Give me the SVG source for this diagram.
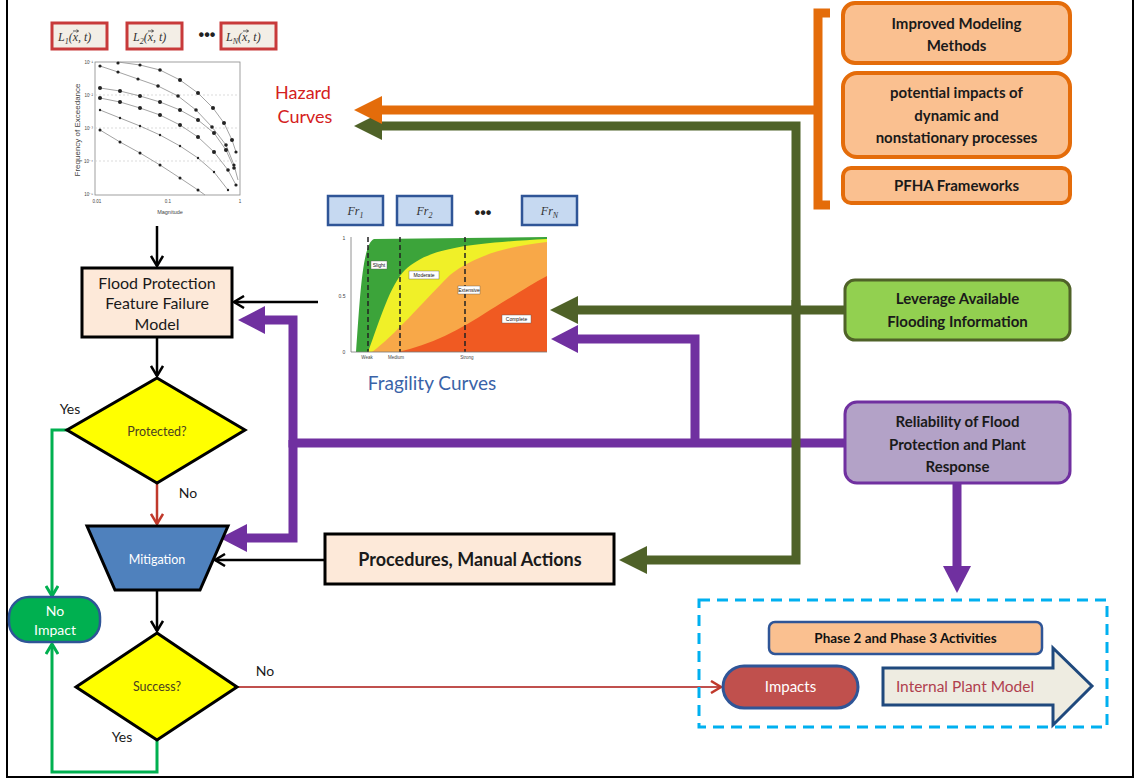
<svg xmlns="http://www.w3.org/2000/svg" width="1135" height="782" viewBox="0 0 1135 782">
<defs>
<style>
.t{font-family:Lato,"Liberation Sans",sans-serif;fill:#1a1a1a}
.b{font-weight:bold}
.m{text-anchor:middle}
.ser{font-family:"Liberation Serif","DejaVu Serif",serif;font-style:italic;fill:#333}
.thin{fill:none;stroke:#000;stroke-width:2.5}
.thick{fill:none;stroke-width:9;stroke-linejoin:miter}
.ob{fill:#fac090;stroke:#e46c0a;stroke-width:4}
.tiny{font-family:"Liberation Sans",sans-serif;fill:#444}
.vec{fill:none;stroke:#333;stroke-width:0.8}
</style>
<marker id="chevK" markerUnits="userSpaceOnUse" markerWidth="14" markerHeight="14" refX="11" refY="7" orient="auto"><path d="M1,1 L11,7 L1,13" fill="none" stroke="#000" stroke-width="2.5"/></marker>
<marker id="chevR" markerUnits="userSpaceOnUse" markerWidth="14" markerHeight="14" refX="11" refY="7" orient="auto"><path d="M1,1 L11,7 L1,13" fill="none" stroke="#c0392b" stroke-width="2.5"/></marker>
<marker id="chevG" markerUnits="userSpaceOnUse" markerWidth="14" markerHeight="14" refX="11" refY="7" orient="auto"><path d="M1,1 L11,7 L1,13" fill="none" stroke="#00b050" stroke-width="3"/></marker>
<marker id="hO" markerUnits="userSpaceOnUse" markerWidth="30" markerHeight="30" refX="0" refY="14" orient="auto"><path d="M0,0 L28,14 L0,28 Z" fill="#e46c0a"/></marker>
<marker id="hG" markerUnits="userSpaceOnUse" markerWidth="30" markerHeight="30" refX="0" refY="14" orient="auto"><path d="M0,0 L28,14 L0,28 Z" fill="#4f6228"/></marker>
<marker id="hP" markerUnits="userSpaceOnUse" markerWidth="30" markerHeight="30" refX="0" refY="14" orient="auto"><path d="M0,0 L27,14 L0,28 Z" fill="#7030a0"/></marker>
</defs>
<rect width="1135" height="782" fill="#fff"/>
<path d="M7,0 V777 H1133 V0" fill="none" stroke="#000" stroke-width="2"/>

<!-- connectors -->
<g id="connectors">
<path class="thick" stroke="#7030a0" d="M845,443 H293 V320 H265" marker-end="url(#hP)"/>
<path class="thick" stroke="#7030a0" d="M293,440 V538 H247" marker-end="url(#hP)"/>
<path class="thick" stroke="#7030a0" d="M695,443 V339 H578" marker-end="url(#hP)"/>
<path class="thick" stroke="#7030a0" d="M957,483 V566" marker-end="url(#hP)"/>
<path class="thick" stroke="#4f6228" d="M796,310 V126 H382" marker-end="url(#hG)"/>
<path class="thick" stroke="#4f6228" d="M796,300 V560 H647" marker-end="url(#hG)"/>
<path class="thick" stroke="#4f6228" d="M845,310 H578" marker-end="url(#hG)"/>
<path class="thick" stroke="#e46c0a" d="M830,13 H818 V205 H830"/>
<path class="thick" stroke="#e46c0a" d="M818,110 H382" marker-end="url(#hO)"/>
<path class="thin" d="M157,226 V266" marker-end="url(#chevK)"/>
<path class="thin" d="M318,302 H234" marker-end="url(#chevK)"/>
<path class="thin" d="M157,337 V376" marker-end="url(#chevK)"/>
<path class="thin" d="M157,590 V631" marker-end="url(#chevK)"/>
<path class="thin" d="M325,560 H215" marker-end="url(#chevK)"/>
<path d="M157,483 V524" fill="none" stroke="#c0392b" stroke-width="2.5" marker-end="url(#chevR)"/>
<path d="M237,687 H721" fill="none" stroke="#c0504d" stroke-width="2" marker-end="url(#chevR)"/>
<path d="M67,430 H52 V596" fill="none" stroke="#00b050" stroke-width="3" marker-end="url(#chevG)"/>
<path d="M157,740 V772 H52 V644" fill="none" stroke="#00b050" stroke-width="3" marker-end="url(#chevG)"/>
<text class="t" x="70" y="414" font-size="14" text-anchor="middle">Yes</text>
<text class="t" x="188" y="498" font-size="14" text-anchor="middle">No</text>
<text class="t" x="265" y="676" font-size="14" text-anchor="middle">No</text>
<text class="t" x="122" y="742" font-size="14" text-anchor="middle">Yes</text>
</g>

<!-- hazard curve boxes -->
<g id="hazard-inputs">
<rect x="52" y="23" width="55" height="26" fill="#f3eee6" stroke="#c83a3a" stroke-width="3"/>
<text class="ser" x="58" y="41" font-size="12">L<tspan font-size="8" dy="3">1</tspan><tspan dy="-3">(x, t)</tspan></text>
<path class="vec" d="M73,31 H78.5 M76.6,29.6 L78.5,31 L76.6,32.4"/>
<rect x="127" y="23" width="55" height="26" fill="#f3eee6" stroke="#c83a3a" stroke-width="3"/>
<text class="ser" x="133" y="41" font-size="12">L<tspan font-size="8" dy="3">2</tspan><tspan dy="-3">(x, t)</tspan></text>
<path class="vec" d="M148,31 H153.5 M151.6,29.6 L153.5,31 L151.6,32.4"/>
<text x="207" y="40" font-family="Liberation Sans,sans-serif" font-size="16" font-weight="bold" text-anchor="middle" fill="#222">•••</text>
<rect x="221" y="23" width="55" height="26" fill="#f3eee6" stroke="#c83a3a" stroke-width="3"/>
<text class="ser" x="226" y="41" font-size="12">L<tspan font-size="8" dy="3">N</tspan><tspan dy="-3">(x, t)</tspan></text>
<path class="vec" d="M243,31 H248.5 M246.6,29.6 L248.5,31 L246.6,32.4"/>
</g>

<!-- hazard chart -->
<g id="hazard-chart">
<rect x="95" y="62" width="145" height="133" fill="#fff" stroke="#888" stroke-width="0.8"/>
<g stroke="#ccc" stroke-width="0.7" stroke-dasharray="2,2"><path d="M95,95 H240 M95,128 H240 M95,161 H240"/></g>
<g fill="none" stroke="#999" stroke-width="0.9">
<polyline points="118,62 140,65 160,70 180,80 198,93 213,108 224,123 232,140 236,152"/>
<polyline points="100,66 118,72 138,79 158,86 178,96 196,110 212,127 226,145 234,165 238,180"/>
<polyline points="100,88 120,91 140,96 160,102 180,110 198,120 214,133 226,150 234,168"/>
<polyline points="100,98 120,102 140,108 160,115 180,125 198,137 214,152 228,170 236,185"/>
<polyline points="100,110 120,118 140,126 160,135 180,146 198,158 214,172 228,190"/>
<polyline points="100,130 120,142 140,153 160,165 180,178 198,190 205,195"/>
</g>
<g fill="#222">
<circle cx="118" cy="63" r="1.6"/><circle cx="140" cy="65" r="1.6"/><circle cx="160" cy="70" r="1.8"/><circle cx="180" cy="80" r="2"/><circle cx="198" cy="93" r="2"/><circle cx="213" cy="108" r="2"/><circle cx="224" cy="123" r="2"/><circle cx="232" cy="140" r="2"/><circle cx="236" cy="152" r="1.6"/>
<circle cx="100" cy="66" r="1.6"/><circle cx="118" cy="72" r="1.6"/><circle cx="138" cy="79" r="1.6"/><circle cx="158" cy="86" r="1.8"/><circle cx="178" cy="96" r="1.8"/><circle cx="196" cy="110" r="1.8"/><circle cx="212" cy="127" r="1.8"/><circle cx="226" cy="145" r="1.8"/><circle cx="234" cy="165" r="1.6"/>
<circle cx="100" cy="88" r="2"/><circle cx="120" cy="91" r="2"/><circle cx="140" cy="96" r="2"/><circle cx="160" cy="102" r="2"/><circle cx="180" cy="110" r="2"/><circle cx="198" cy="120" r="2"/><circle cx="214" cy="133" r="2"/><circle cx="226" cy="150" r="2"/><circle cx="234" cy="168" r="1.8"/>
<circle cx="100" cy="98" r="2"/><circle cx="120" cy="102" r="2"/><circle cx="140" cy="108" r="2"/><circle cx="160" cy="115" r="2"/><circle cx="180" cy="125" r="2"/><circle cx="198" cy="137" r="2"/><circle cx="214" cy="152" r="2"/><circle cx="228" cy="170" r="1.8"/><circle cx="236" cy="185" r="1.6"/>
<circle cx="100" cy="110" r="1.2"/><circle cx="120" cy="118" r="1.2"/><circle cx="140" cy="126" r="1.2"/><circle cx="160" cy="135" r="1.2"/><circle cx="180" cy="146" r="1.2"/><circle cx="198" cy="158" r="1.2"/><circle cx="214" cy="172" r="1.2"/><circle cx="228" cy="190" r="1.2"/>
<circle cx="100" cy="130" r="1.5"/><circle cx="120" cy="142" r="1.5"/><circle cx="140" cy="153" r="1.5"/><circle cx="160" cy="165" r="1.5"/><circle cx="180" cy="178" r="1.5"/><circle cx="198" cy="190" r="1.5"/>
</g>
<g class="tiny" font-size="4.5" text-anchor="end">
<text x="93" y="64">10⁻¹</text><text x="93" y="97">10⁻²</text><text x="93" y="130">10⁻³</text><text x="93" y="163">10⁻⁴</text><text x="93" y="196">10⁻⁵</text>
</g>
<g class="tiny" font-size="4.5" text-anchor="middle">
<text x="97" y="203">0.01</text><text x="168" y="203">0.1</text><text x="240" y="203">1</text>
<text x="170" y="214" font-size="5.5">Magnitude</text>
</g>
<text class="tiny" font-size="8" text-anchor="middle" transform="translate(80,130) rotate(-90)">Frequency of Exceedance</text>
</g>

<g id="hazard-title">
<text class="t m" x="303" y="99" font-size="18" style="fill:#d42020">Hazard</text>
<text class="t m" x="305" y="123" font-size="18" style="fill:#d42020">Curves</text>
</g>

<!-- fragility boxes -->
<g id="fragility-inputs">
<rect x="328" y="196" width="55" height="29" fill="#c6d9f1" stroke="#2f5597" stroke-width="2.5"/>
<text class="ser" x="355.5" y="215" font-size="12" text-anchor="middle">Fr<tspan font-size="8" dy="3">1</tspan></text>
<rect x="397" y="196" width="55" height="29" fill="#c6d9f1" stroke="#2f5597" stroke-width="2.5"/>
<text class="ser" x="424.5" y="215" font-size="12" text-anchor="middle">Fr<tspan font-size="8" dy="3">2</tspan></text>
<text x="483" y="218" font-family="Liberation Sans,sans-serif" font-size="16" font-weight="bold" text-anchor="middle" fill="#222">•••</text>
<rect x="522" y="196" width="55" height="29" fill="#c6d9f1" stroke="#2f5597" stroke-width="2.5"/>
<text class="ser" x="549.5" y="215" font-size="12" text-anchor="middle">Fr<tspan font-size="8" dy="3">N</tspan></text>
</g>

<!-- fragility chart -->
<g id="fragility-chart">
<rect x="351" y="237" width="196" height="115" fill="#fff"/>
<path d="M356,352 C360,300 362,244 374,239 L547,237 L547,352 Z" fill="#3ca43a"/>
<path d="M368,352 C380,320 390,285 405,270 C425,252 450,244 547,239 L547,352 Z" fill="#f0f028"/>
<path d="M372,352 C395,335 420,305 450,275 C475,255 510,246 547,242 L547,352 Z" fill="#f8a848"/>
<path d="M398,352 C430,345 460,330 490,310 C515,295 530,285 547,276 L547,352 Z" fill="#f05a22"/>
<g stroke="#222" stroke-width="1.5" stroke-dasharray="5,3"><path d="M368,237 V352 M400,237 V352 M465,237 V352"/></g>
<path d="M351,237 V352 H547" fill="none" stroke="#777" stroke-width="0.8"/>
<g font-family="Liberation Sans,sans-serif" font-size="5" text-anchor="middle" fill="#111">
<rect x="371" y="261" width="16" height="8" fill="#fff" stroke="#555" stroke-width="0.4"/><text x="379" y="267">Slight</text>
<rect x="409" y="271" width="30" height="8" fill="#fff" stroke="#555" stroke-width="0.4"/><text x="424" y="277">Moderate</text>
<rect x="458" y="286" width="22" height="8" fill="#fff" stroke="#555" stroke-width="0.4"/><text x="469" y="292">Extensive</text>
<rect x="502" y="315" width="29" height="8" fill="#fff" stroke="#555" stroke-width="0.4"/><text x="516.5" y="321">Complete</text>
</g>
<g class="tiny" font-size="5" text-anchor="middle">
<text x="344" y="240">1</text><text x="342" y="298">0.5</text><text x="344" y="354">0</text>
<text x="367" y="359" font-size="4.5">Weak</text><text x="396" y="359" font-size="4.5">Medium</text><text x="467" y="359" font-size="4.5">Strong</text>
</g>
</g>
<g id="fragility-title">
<text class="t m" x="432" y="390" font-size="19" style="fill:#3a63a8">Fragility Curves</text>
</g>

<!-- right side boxes -->
<g id="improved-modeling">
<rect class="ob" x="843" y="3" width="227" height="60" rx="12"/>
<text class="t b m" x="956.5" y="29" font-size="15">Improved Modeling</text>
<text class="t b m" x="956.5" y="51" font-size="15">Methods</text>
</g>
<g id="potential-impacts">
<rect class="ob" x="843" y="73" width="227" height="84" rx="14"/>
<text class="t b m" x="956.5" y="98" font-size="15">potential impacts of</text>
<text class="t b m" x="956.5" y="121" font-size="15">dynamic and</text>
<text class="t b m" x="956.5" y="143" font-size="15">nonstationary processes</text>
</g>
<g id="pfha">
<rect class="ob" x="843" y="168" width="227" height="35" rx="8"/>
<text class="t b m" x="956.5" y="191" font-size="15">PFHA Frameworks</text>
</g>
<g id="leverage">
<rect x="845" y="280" width="225" height="60" rx="10" fill="#92d050" stroke="#4f6228" stroke-width="3"/>
<text class="t b m" x="957.5" y="304" font-size="15">Leverage Available</text>
<text class="t b m" x="957.5" y="327" font-size="15">Flooding Information</text>
</g>
<g id="reliability">
<rect x="845" y="402" width="225" height="81" rx="12" fill="#b3a2c7" stroke="#7030a0" stroke-width="3"/>
<text class="t b m" x="957.5" y="427" font-size="15">Reliability of Flood</text>
<text class="t b m" x="957.5" y="450" font-size="15">Protection and Plant</text>
<text class="t b m" x="957.5" y="472" font-size="15">Response</text>
</g>

<!-- flowchart -->
<g id="flood-protection">
<rect x="82" y="268" width="150" height="69" fill="#fde9d9" stroke="#000" stroke-width="3"/>
<text class="t m" x="157" y="289" font-size="16">Flood Protection</text>
<text class="t m" x="157" y="309" font-size="16">Feature Failure</text>
<text class="t m" x="157" y="330" font-size="16">Model</text>
</g>
<g id="protected">
<polygon points="157,378 245,430 157,483 67,430" fill="#ffff00" stroke="#000" stroke-width="3"/>
<text class="t m" x="157" y="436" font-size="12.5" style="fill:#4a4020">Protected?</text>
</g>
<g id="mitigation">
<polygon points="87,526 228,526 200,590 115,590" fill="#4f81bd" stroke="#000" stroke-width="3"/>
<text class="t m" x="157" y="564" font-size="12.5" style="fill:#fff">Mitigation</text>
</g>
<g id="procedures">
<rect x="325" y="534" width="289" height="50" fill="#fde9d9" stroke="#000" stroke-width="3"/>
<text class="t b m" x="470" y="566" font-size="18">Procedures, Manual Actions</text>
</g>
<g id="no-impact">
<rect x="9" y="597" width="91" height="45" rx="20" fill="#00b050" stroke="#2f5597" stroke-width="2.5"/>
<text class="t m" x="55" y="616" font-size="14" style="fill:#fff">No</text>
<text class="t m" x="55" y="635" font-size="14" style="fill:#fff">Impact</text>
</g>
<g id="success">
<polygon points="157,633 237,687 157,740 76,687" fill="#ffff00" stroke="#000" stroke-width="3"/>
<text class="t m" x="157" y="691" font-size="12.5" style="fill:#4a4020">Success?</text>
</g>

<!-- phase 2/3 -->
<g id="phase-group">
<rect x="699" y="600" width="408" height="127" fill="none" stroke="#00b0f0" stroke-width="3" stroke-dasharray="11,7"/>
</g>
<g id="phase-activities">
<rect x="769" y="622" width="273" height="32" rx="6" fill="#fac090" stroke="#2f5597" stroke-width="2.5"/>
<text class="t b m" x="905.5" y="643" font-size="13.5" style="fill:#111">Phase 2 and Phase 3 Activities</text>
</g>
<g id="impacts">
<rect x="723" y="666" width="135" height="42" rx="21" fill="#c0504d" stroke="#2f5597" stroke-width="3"/>
<text class="t m" x="790.5" y="692" font-size="15" style="fill:#fff">Impacts</text>
</g>
<g id="internal-plant-model">
<polygon points="883,668 1053,668 1053,648 1092,686 1053,725 1053,705 883,705" fill="#eeece1" stroke="#1f497d" stroke-width="3" stroke-linejoin="miter"/>
<text class="t m" x="965" y="692" font-size="15.5" style="fill:#b0404e">Internal Plant Model</text>
</g>
</svg>
